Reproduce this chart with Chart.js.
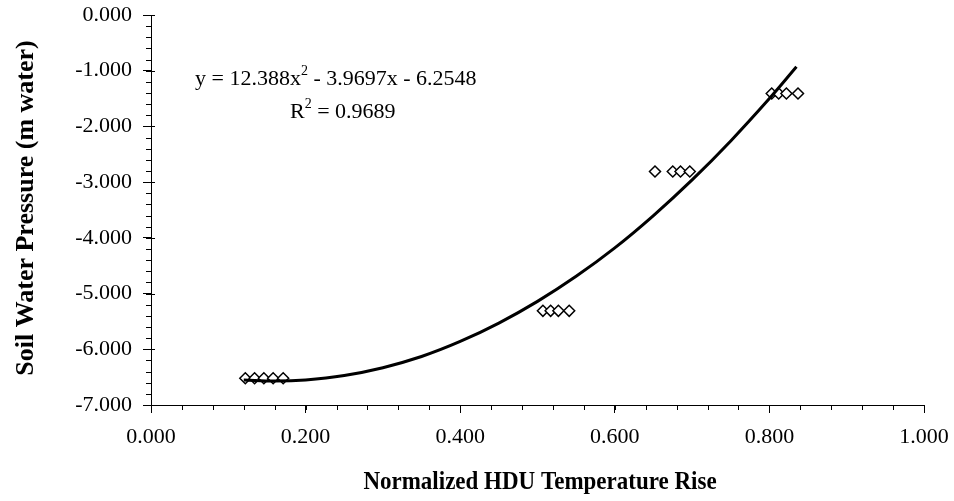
<!DOCTYPE html>
<html>
<head>
<meta charset="utf-8">
<script src="https://cdn.jsdelivr.net/npm/chart.js@4/dist/chart.umd.min.js"></script>
<style>
  html, body { margin: 0; padding: 0; background: #fff; }
  #wrap { width: 954px; height: 501px; }
</style>
</head>
<body>
<div id="wrap"><canvas id="chart" width="954" height="501"></canvas></div>
<script>
// Measured points
const measuredX = [0.122, 0.134, 0.146, 0.158, 0.171,
                   0.507, 0.517, 0.527, 0.541,
                   0.652, 0.675, 0.685, 0.697,
                   0.803, 0.812, 0.822, 0.837];
const measuredY = [-6.52, -6.52, -6.52, -6.52, -6.52,
                   -5.31, -5.31, -5.31, -5.31,
                   -2.81, -2.81, -2.81, -2.81,
                   -1.41, -1.41, -1.41, -1.41];

// Trendline as drawn
const trendX = [0.12, 0.16, 0.20, 0.25, 0.30, 0.35, 0.40, 0.45, 0.50, 0.55, 0.60, 0.65, 0.70, 0.75, 0.80, 0.835];
const trendY = [-6.55, -6.57, -6.55, -6.47, -6.33, -6.13, -5.86, -5.53, -5.14, -4.69, -4.18, -3.60, -2.96, -2.26, -1.50, -0.93];

const xTicks = [0, 0.2, 0.4, 0.6, 0.8, 1.0];
const yTicks = [0, -1, -2, -3, -4, -5, -6, -7];

const equationParts = ['y = 12.388x', '2', ' - 3.9697x - 6.2548'];
const r2Parts = ['R', '2', ' = 0.9689'];
const xTitle = 'Normalized HDU Temperature Rise';
const yTitle = 'Soil Water Pressure (m water)';

const FONT = '"Liberation Serif", "Times New Roman", serif';

// Draw text with a superscript in the middle
function drawSup(ctx, parts, x, y) {
  ctx.font = '22px ' + FONT;
  ctx.fillText(parts[0], x, y);
  x += ctx.measureText(parts[0]).width;
  ctx.font = '14px ' + FONT;
  ctx.fillText(parts[1], x, y - 10);
  x += ctx.measureText(parts[1]).width;
  ctx.font = '22px ' + FONT;
  ctx.fillText(parts[2], x, y);
}

// Minor ticks, crossing ticks, titles and equation
const extras = {
  id: 'extras',
  afterDraw(chart) {
    const ctx = chart.ctx;
    const xs = chart.scales.x;
    const ys = chart.scales.y;
    const area = chart.chartArea;
    ctx.save();
    ctx.strokeStyle = '#000';
    ctx.lineWidth = 1;
    ctx.beginPath();
    // y minor ticks every 0.2
    for (let i = 0; i <= 35; i++) {
      const py = Math.round(ys.getPixelForValue(-i * 0.2)) + 0.5;
      ctx.moveTo(area.left - 5, py);
      ctx.lineTo(area.left, py);
    }
    // y major ticks cross the axis
    yTicks.forEach(v => {
      const py = Math.round(ys.getPixelForValue(v)) + 0.5;
      ctx.moveTo(area.left, py);
      ctx.lineTo(area.left + 4, py);
    });
    // x minor ticks every 0.04
    for (let i = 0; i <= 25; i++) {
      const px = Math.round(xs.getPixelForValue(i * 0.04)) + 0.5;
      ctx.moveTo(px, area.bottom);
      ctx.lineTo(px, area.bottom + 5);
    }
    ctx.stroke();

    ctx.fillStyle = '#000';
    ctx.textBaseline = 'alphabetic';
    ctx.textAlign = 'left';
    drawSup(ctx, equationParts, 195, 85);
    drawSup(ctx, r2Parts, 290, 118);

    // Axis titles
    ctx.textAlign = 'center';
    ctx.textBaseline = 'middle';
    ctx.save();
    ctx.font = 'bold 25px ' + FONT;
    ctx.translate(540, 483);
    ctx.scale(0.92, 1);
    ctx.fillText(xTitle, 0, 0);
    ctx.restore();
    ctx.font = 'bold 26px ' + FONT;
    ctx.translate(26, 208);
    ctx.rotate(-Math.PI / 2);
    ctx.fillText(yTitle, 0, 0);
    ctx.restore();
  }
};

// Create chart
const ctx = document.getElementById('chart').getContext('2d');
new Chart(ctx, {
  type: 'scatter',
  data: {
    datasets: [{
      label: 'Trend',
      data: trendX.map((x, i) => ({ x: x, y: trendY[i] })),
      showLine: true,
      borderColor: '#000',
      borderWidth: 3,
      pointRadius: 0,
      tension: 0.4,
      fill: false
    }, {
      label: 'Measured',
      data: measuredX.map((x, i) => ({ x: x, y: measuredY[i] })),
      pointStyle: 'rectRot',
      pointRadius: 5.5,
      backgroundColor: '#fff',
      borderColor: '#000',
      borderWidth: 1.5
    }]
  },
  options: {
    responsive: false,
    animation: false,
    devicePixelRatio: 1,
    layout: { padding: { left: 0, right: 30, top: 15, bottom: 0 } },
    plugins: {
      legend: { display: false },
      tooltip: { enabled: false }
    },
    scales: {
      x: {
        type: 'linear',
        min: 0,
        max: 1,
        afterBuildTicks: s => { s.ticks = xTicks.map(v => ({ value: v })); },
        afterFit: s => { s.height = 96; s.paddingLeft = 0; s.paddingRight = 0; },
        ticks: {
          color: '#000',
          font: { family: FONT, size: 22 },
          padding: 11,
          maxRotation: 0,
          callback: v => v.toFixed(3)
        },
        grid: { drawOnChartArea: false, drawTicks: true, tickLength: 8, color: '#000', lineWidth: 1 },
        border: { display: true, color: '#000', width: 1 }
      },
      y: {
        type: 'linear',
        min: -7,
        max: 0,
        afterBuildTicks: s => { s.ticks = yTicks.map(v => ({ value: v })); },
        afterFit: s => { s.width = 151; s.paddingTop = 0; s.paddingBottom = 0; },
        ticks: {
          color: '#000',
          font: { family: FONT, size: 22 },
          padding: 11,
          callback: v => v.toFixed(3)
        },
        grid: { drawOnChartArea: false, drawTicks: true, tickLength: 8, color: '#000', lineWidth: 1 },
        border: { display: true, color: '#000', width: 1 }
      }
    }
  },
  plugins: [extras]
});
</script>
</body>
</html>
